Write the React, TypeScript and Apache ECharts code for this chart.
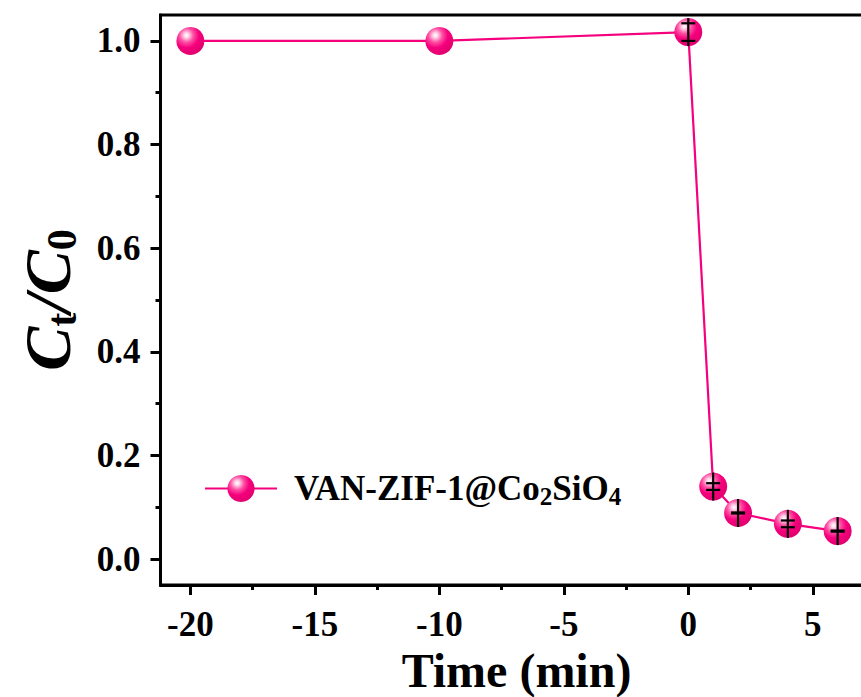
import React, { useEffect, useRef } from "react";
import * as echarts from "echarts";

// ---- data ----
const times = [-20, -10, 0, 1, 2, 4, 6];
const ratio = [1.0, 1.0, 1.017, 0.14, 0.089, 0.068, 0.054];
const errs: (number | null)[] = [null, null, 0.017, 0.0065, 0.001, 0.0065, 0.001];
const xMajorTicks = [-20, -15, -10, -5, 0, 5];
const xMinorTicks = [-17.5, -12.5, -7.5, -2.5, 2.5];
const yMajorTicks = [0, 0.2, 0.4, 0.6, 0.8, 1.0];
const yMinorTicks = [0.1, 0.3, 0.5, 0.7, 0.9];
const seriesName = "VAN-ZIF-1@Co2SiO4";

const FONT = "'Liberation Serif', 'Times New Roman', serif";
const PINK = "#F5007D";

export default function App() {
  const ref = useRef<HTMLDivElement>(null);
  useEffect(() => {
    if (!ref.current) return;
    const chart = echarts.init(ref.current, null, { renderer: "svg" });
    const ball = {
      type: "radial",
      x: 0.36,
      y: 0.3,
      r: 0.72,
      colorStops: [
        { offset: 0, color: "#ffffff" },
        { offset: 0.12, color: "#ffd3e8" },
        { offset: 0.35, color: "#ff4fa3" },
        { offset: 0.62, color: PINK },
        { offset: 1, color: "#e2006f" },
      ],
    };
    const errData = times
      .map((t, i) => [t, ratio[i], errs[i]])
      .filter((d) => d[2] !== null);
    const tickLabel = {
      fontFamily: FONT,
      fontWeight: "bold",
      fontSize: 35,
      color: "#000",
    };
    const xMin = -21.2;
    const xMax = 7.4;
    const yMin = -0.05;
    const yMax = 1.05;
    chart.setOption({
      animation: false,
      backgroundColor: "#fff",
      grid: {
        left: 160.5,
        top: 15,
        width: 712,
        height: 570,
        show: true,
        borderColor: "#000",
        borderWidth: 3,
        outerBoundsMode: "none",
        containLabel: false,
      },
      legend: {
        left: 199,
        top: 466,
        itemWidth: 72,
        itemHeight: 34,
        data: [seriesName],
        formatter: () => "{a|VAN-ZIF-1@Co}{s|2}{a|SiO}{s|4}",
        textStyle: {
          padding: [0, 0, 0, 12],
          rich: {
            a: {
              fontFamily: FONT,
              fontWeight: "bold",
              fontSize: 35,
              color: "#000",
              lineHeight: 40,
              verticalAlign: "middle",
            },
            s: {
              fontFamily: FONT,
              fontWeight: "bold",
              fontSize: 25,
              color: "#000",
              lineHeight: 24,
              verticalAlign: "bottom",
            },
          },
        },
      },
      xAxis: [
        {
          type: "value",
          min: xMin,
          max: xMax,
          position: "bottom",
          name: "Time (min)",
          nameLocation: "middle",
          nameGap: 58,
          nameTextStyle: {
            fontFamily: FONT,
            fontWeight: "bold",
            fontSize: 48,
            color: "#000",
          },
          axisLine: { show: true, onZero: false, lineStyle: { color: "#000", width: 3 } },
          axisTick: {
            show: true,
            length: 10,
            lineStyle: { color: "#000", width: 3 },
            customValues: xMajorTicks,
          },
          axisLabel: {
            ...tickLabel,
            margin: 22,
            customValues: xMajorTicks,
            formatter: (v: number) => String(v),
          },
          splitLine: { show: false },
        },
        {
          type: "value",
          min: xMin,
          max: xMax,
          position: "bottom",
          axisLine: { show: false, onZero: false },
          axisTick: {
            show: true,
            length: 5,
            lineStyle: { color: "#000", width: 3 },
            customValues: xMinorTicks,
          },
          axisLabel: { show: false },
          splitLine: { show: false },
        },
      ],
      yAxis: [
        {
          type: "value",
          min: yMin,
          max: yMax,
          position: "left",
          name: "{c|C}{t|t}{c|/C}{t|0}",
          nameLocation: "middle",
          nameGap: 78,
          nameRotate: 90,
          nameTextStyle: {
            rich: {
              c: {
                fontFamily: FONT,
                fontWeight: "bold",
                fontStyle: "italic",
                fontSize: 66,
                color: "#000",
                lineHeight: 70,
                verticalAlign: "middle",
              },
              t: {
                fontFamily: FONT,
                fontWeight: "bold",
                fontSize: 42,
                color: "#000",
                lineHeight: 40,
                verticalAlign: "bottom",
              },
            },
          },
          axisLine: { show: true, onZero: false, lineStyle: { color: "#000", width: 3 } },
          axisTick: {
            show: true,
            length: 10,
            lineStyle: { color: "#000", width: 3 },
            customValues: yMajorTicks,
          },
          axisLabel: {
            ...tickLabel,
            margin: 20,
            customValues: yMajorTicks,
            formatter: (v: number) => v.toFixed(1),
          },
          splitLine: { show: false },
        },
        {
          type: "value",
          min: yMin,
          max: yMax,
          position: "left",
          axisLine: { show: false, onZero: false },
          axisTick: {
            show: true,
            length: 5,
            lineStyle: { color: "#000", width: 3 },
            customValues: yMinorTicks,
          },
          axisLabel: { show: false },
          splitLine: { show: false },
        },
      ],
      series: [
        {
          name: seriesName,
          type: "line",
          data: times.map((t, i) => [t, ratio[i]]),
          symbol: "circle",
          symbolSize: 28,
          itemStyle: { color: ball },
          lineStyle: { color: PINK, width: 2.2 },
          z: 2,
        },
        {
          type: "custom",
          data: errData,
          z: 5,
          silent: true,
          renderItem: (params: any, api: any) => {
            const x = api.value(0);
            const y = api.value(1);
            const e = api.value(2);
            const c = api.coord([x, y]);
            const top = api.coord([x, y + e]);
            const bot = api.coord([x, y - e]);
            const half = 14;
            const cap = 7;
            const st = { stroke: "#000", lineWidth: 2.2 };
            return {
              type: "group",
              children: [
                {
                  type: "line",
                  shape: {
                    x1: c[0],
                    y1: Math.min(top[1], c[1] - half),
                    x2: c[0],
                    y2: Math.max(bot[1], c[1] + half),
                  },
                  style: st,
                },
                {
                  type: "line",
                  shape: { x1: c[0] - cap, y1: top[1], x2: c[0] + cap, y2: top[1] },
                  style: st,
                },
                {
                  type: "line",
                  shape: { x1: c[0] - cap, y1: bot[1], x2: c[0] + cap, y2: bot[1] },
                  style: st,
                },
              ],
            };
          },
        },
      ],
    });
    return () => chart.dispose();
  }, []);
  return (
    <div
      ref={ref}
      style={{ position: "fixed", left: 0, top: 0, width: 861, height: 697, background: "#fff" }}
    />
  );
}
